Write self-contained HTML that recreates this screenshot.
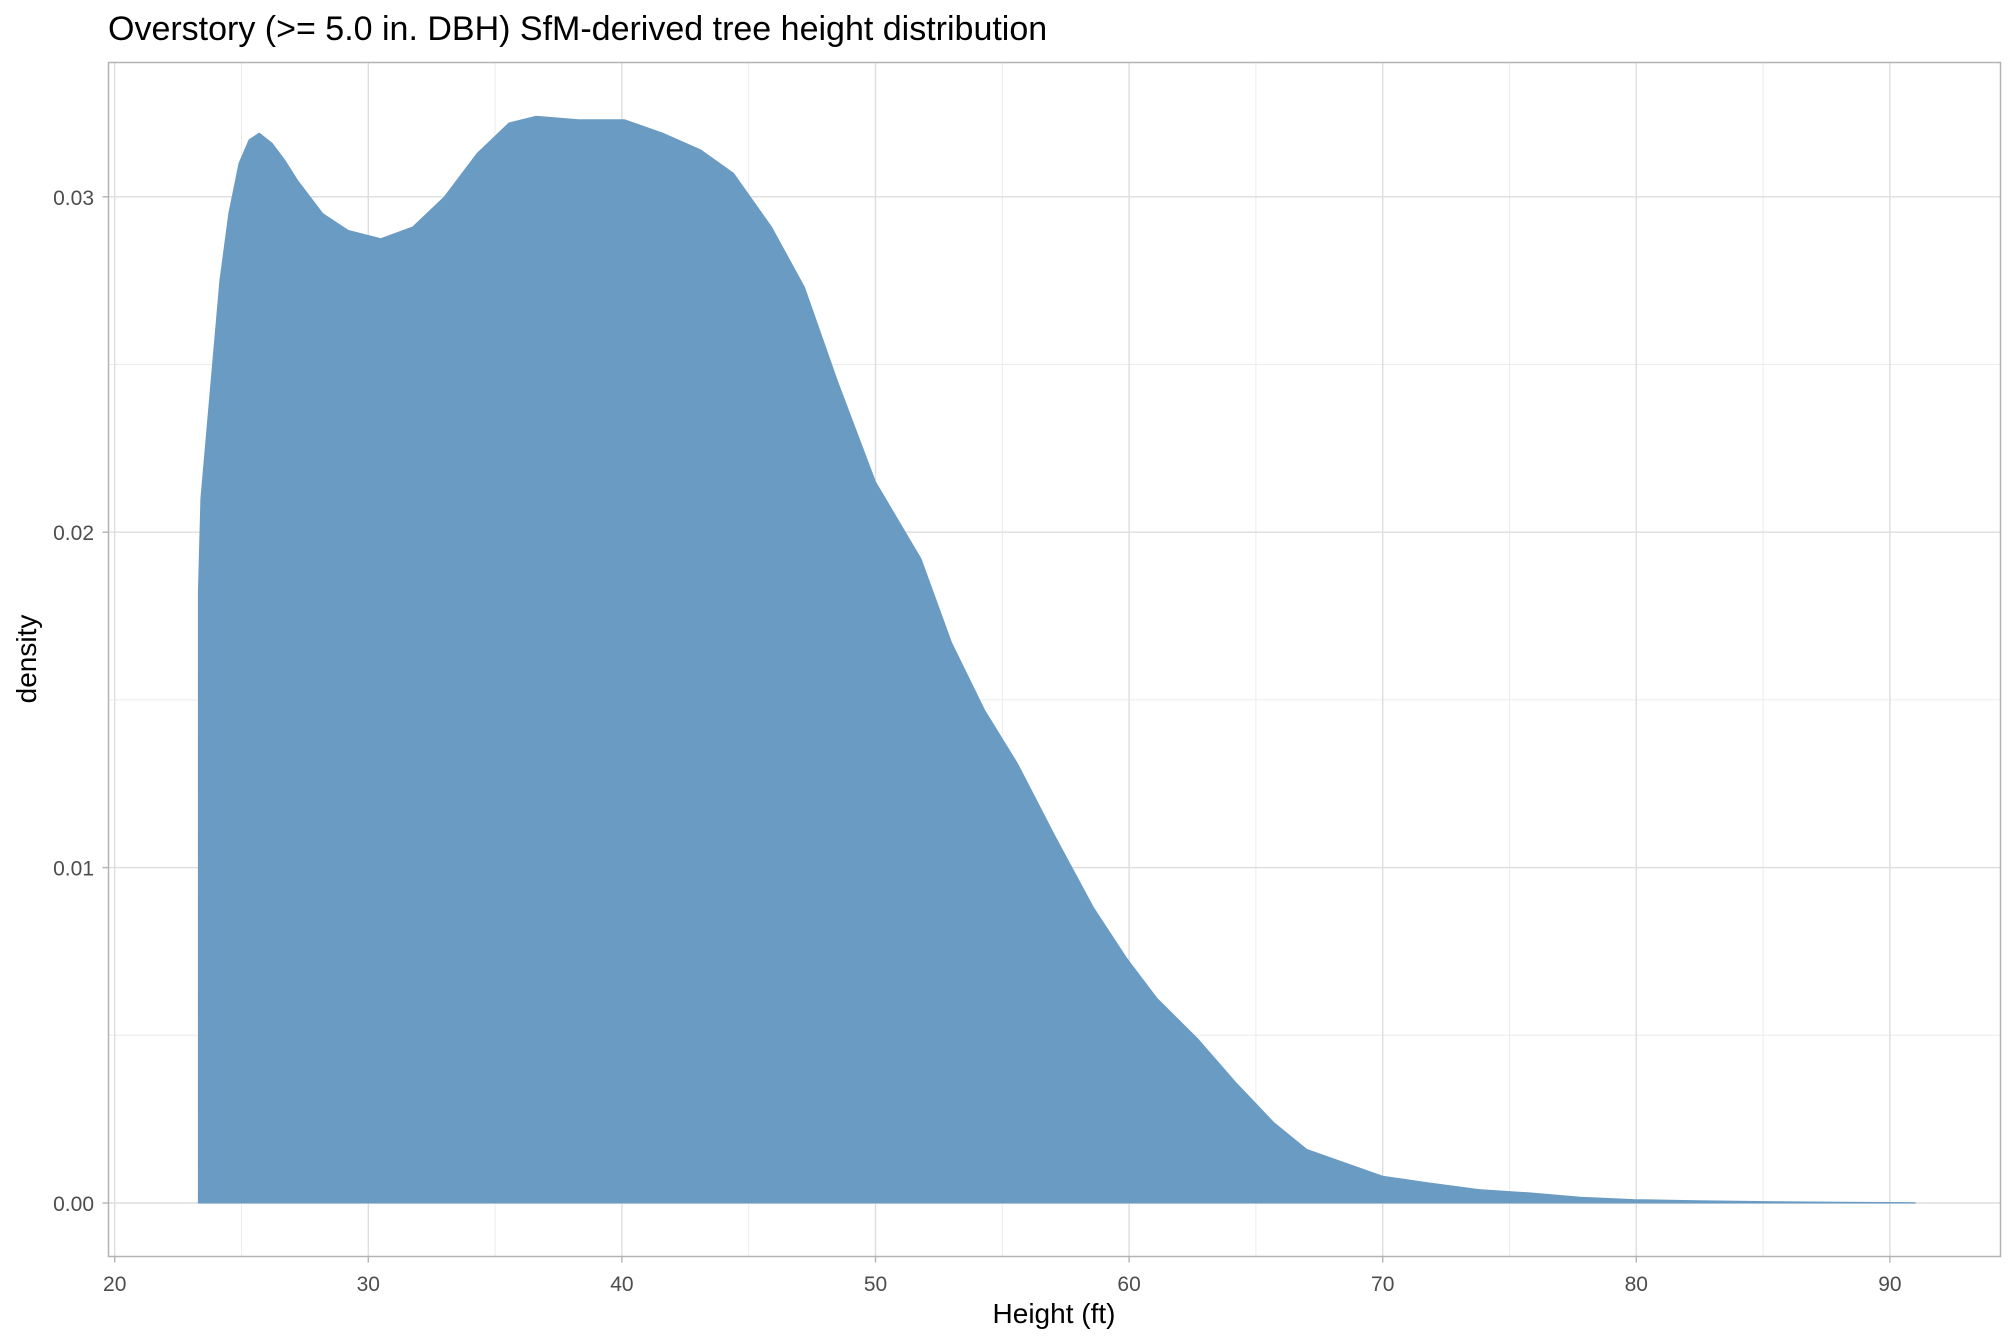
<!DOCTYPE html>
<html><head><meta charset="utf-8"><style>
html,body{margin:0;padding:0;background:#fff;}
svg{display:block;font-family:"Liberation Sans",Arial,sans-serif;}
</style></head><body>
<svg id="chart" width="2016" height="1344" viewBox="0 0 2016 1344">
<text x="108" y="40" font-size="34" fill="#000">Overstory (&gt;= 5.0 in. DBH) SfM-derived tree height distribution</text>
<g id="grid"></g>
<g id="area"></g>
<rect x="108.5" y="62.5" width="1892" height="1194" fill="none" stroke="#b3b3b3" stroke-width="1.5"/>
<g id="axes"></g>
<text x="1054" y="1323" font-size="28" text-anchor="middle" fill="#000">Height (ft)</text>
<text transform="translate(36,659) rotate(-90)" font-size="28" text-anchor="middle" fill="#000">density</text>
</svg>
<script>
const heights=[23.3,23.4,23.8,24.15,24.5,24.9,25.3,25.7,26.2,26.7,27.2,28.2,29.2,30.5,31.75,33,34.3,35.55,36.6,38.3,40.1,41.6,43.1,44.4,45.9,47.2,48.5,50,51.8,53,54.3,55.6,57.1,58.6,59.9,61.1,62.7,64.2,65.7,67,68.5,70,71.8,73.8,75.8,77.8,79.9,82.4,85.5,88,91];
const densities=[0.0182,0.021,0.0245,0.0275,0.0295,0.031,0.0317,0.0319,0.0316,0.0311,0.0305,0.0295,0.029,0.02875,0.0291,0.03,0.0313,0.0322,0.0324,0.0323,0.0323,0.0319,0.0314,0.0307,0.0291,0.0273,0.0245,0.0215,0.0192,0.0167,0.0147,0.0131,0.0109,0.0088,0.0073,0.0061,0.0049,0.0036,0.0024,0.0016,0.0012,0.0008,0.0006,0.0004,0.0003,0.00017,0.0001,0.00007,0.00004,0.00002,0.00001];
const xTicks=[20,30,40,50,60,70,80,90];
const xMinor=[25,35,45,55,65,75,85];
const yTicks=[0,0.01,0.02,0.03];
const yTickLabels=["0.00","0.01","0.02","0.03"];
const yMinor=[0.005,0.015,0.025];
const NS="http://www.w3.org/2000/svg";
const L=108.5,R=2000.5,T=62.5,B=1256.5;
function sx(v){return 114.7+(v-20)*25.36;}
function sy(v){return 1203-v*33540;}
function mk(tag,attrs,parent){const e=document.createElementNS(NS,tag);for(const k in attrs)e.setAttribute(k,attrs[k]);parent.appendChild(e);return e;}
const grid=document.getElementById('grid'),axes=document.getElementById('axes'),area=document.getElementById('area');
xMinor.forEach(v=>{const l=mk('line',{x1:sx(v),x2:sx(v),y1:T,y2:B,stroke:'#ececec','stroke-width':1},grid);

});
yMinor.forEach(v=>{const l=mk('line',{x1:L,x2:R,y1:sy(v),y2:sy(v),stroke:'#ececec','stroke-width':1},grid);

});
xTicks.forEach(v=>{const l=mk('line',{x1:sx(v),x2:sx(v),y1:T,y2:B,stroke:'#dedede','stroke-width':1.4},grid);


const t=mk('line',{x1:sx(v),x2:sx(v),y1:B,y2:B+6,stroke:'#b3b3b3','stroke-width':1.4},axes);


const tx=mk('text',{x:sx(v),y:1291,'font-size':21,'text-anchor':'middle',fill:'#4d4d4d'},axes);tx.textContent=v;

});
yTicks.forEach((v,i)=>{const l=mk('line',{x1:L,x2:R,y1:sy(v),y2:sy(v),stroke:'#dedede','stroke-width':1.4},grid);


const t=mk('line',{x1:L-6,x2:L,y1:sy(v),y2:sy(v),stroke:'#b3b3b3','stroke-width':1.4},axes);


const tx=mk('text',{x:94,y:sy(v)+8,'font-size':21,'text-anchor':'end',fill:'#4d4d4d'},axes);tx.textContent=yTickLabels[i];

});
let d='M'+sx(heights[0])+','+sy(0);
heights.forEach((h,i)=>{d+=' L'+sx(h).toFixed(1)+','+sy(densities[i]).toFixed(1);});
d+=' L'+sx(heights[heights.length-1])+','+sy(0)+' Z';
const p=mk('path',{d:d,fill:'rgb(106,155,195)','stroke':'rgb(106,155,195)','stroke-width':1,'stroke-linejoin':'round'},area);


</script>
</body></html>
